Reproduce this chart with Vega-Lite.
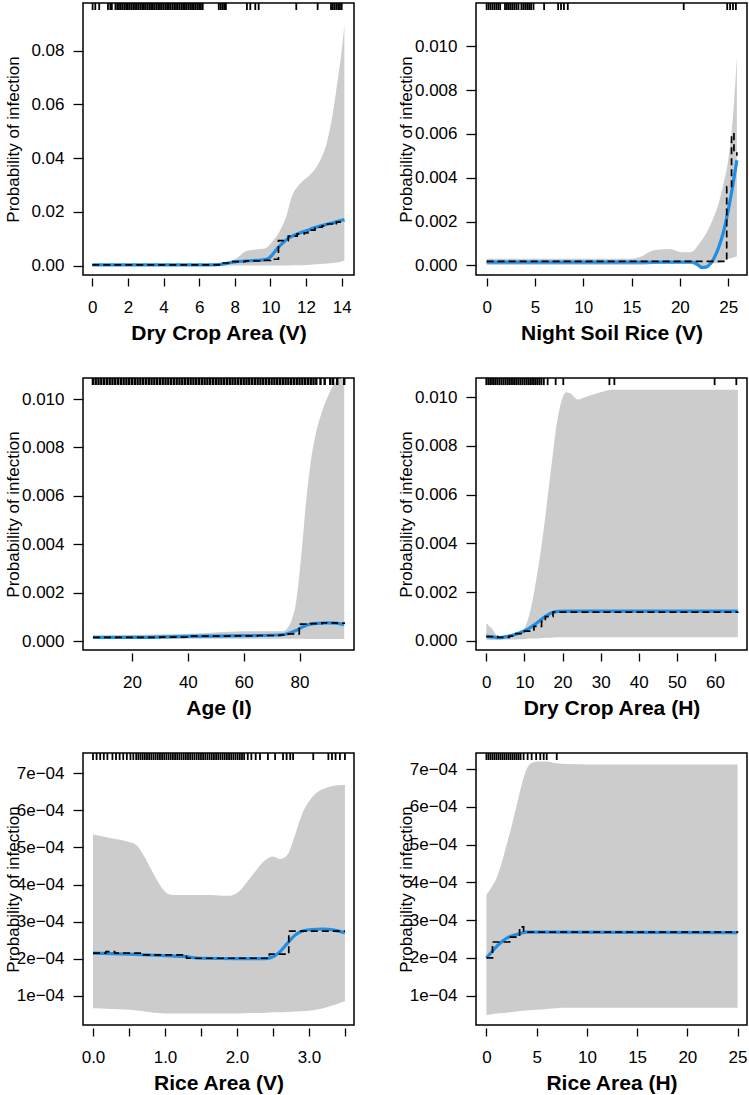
{
  "$schema": "https://vega.github.io/schema/vega-lite/v6.json",
  "padding": {"left": 3, "top": 1, "right": 0, "bottom": 0},
  "background": "white",
  "columns": 2,
  "spacing": {"row": 103, "column": 122},
  "bounds": "flush",
  "config": {
    "view": {"stroke": "#000", "strokeWidth": 1.5},
    "font": "Liberation Sans",
    "axis": {"labelFont": "Liberation Sans", "labelFontSize": 17, "labelColor": "#000", "tickColor": "#000", "tickWidth": 1.3, "grid": false, "titleFont": "Liberation Sans", "titleColor": "#000", "labelFlush": false, "labelOverlap": false, "labelBound": false},
    "axisX": {"offset": 3, "domain": false, "tickSize": 8, "labelPadding": 13, "titleFontSize": 21, "titleFontWeight": "bold", "titleY": 61, "titleBaseline": "alphabetic"},
    "axisY": {"domain": false, "tickSize": 10, "labelPadding": 9, "titleFontSize": 17, "titleFontWeight": "normal", "titleX": -65, "titleBaseline": "alphabetic"}
  },
  "datasets": {
    "b1": [{"x":0,"lo":0,"hi":0.0005},{"x":2,"lo":0,"hi":0.0005},{"x":4,"lo":0,"hi":0.0005},{"x":6,"lo":0,"hi":0.0005},{"x":7,"lo":0,"hi":0.0006},{"x":7.4,"lo":0.00005,"hi":0.0012},{"x":8,"lo":0.0001,"hi":0.0024},{"x":8.7,"lo":0.0001,"hi":0.0056},{"x":9.3,"lo":0.0001,"hi":0.0061},{"x":9.7,"lo":0.0001,"hi":0.0064},{"x":10.1,"lo":0.0001,"hi":0.0089},{"x":10.5,"lo":0.0001,"hi":0.0126},{"x":10.9,"lo":0.0001,"hi":0.0186},{"x":11.2,"lo":0.0002,"hi":0.0257},{"x":11.6,"lo":0.0002,"hi":0.03},{"x":12,"lo":0.0003,"hi":0.0325},{"x":12.4,"lo":0.0004,"hi":0.035},{"x":12.8,"lo":0.0006,"hi":0.0393},{"x":13.2,"lo":0.0008,"hi":0.0467},{"x":13.5,"lo":0.001,"hi":0.0567},{"x":13.8,"lo":0.0013,"hi":0.0703},{"x":14,"lo":0.0016,"hi":0.08},{"x":14.15,"lo":0.0019,"hi":0.0898}],
    "f1": [{"x":0,"y":0.0003},{"x":6.5,"y":0.0003},{"x":7,"y":0.0004},{"x":7.5,"y":0.0008},{"x":8,"y":0.0014},{"x":8.5,"y":0.0017},{"x":9,"y":0.0019},{"x":9.5,"y":0.0021},{"x":9.8,"y":0.0024},{"x":10.1,"y":0.004},{"x":10.4,"y":0.0065},{"x":10.7,"y":0.0085},{"x":11,"y":0.0102},{"x":11.5,"y":0.0118},{"x":12,"y":0.013},{"x":12.5,"y":0.0142},{"x":13,"y":0.0151},{"x":13.5,"y":0.016},{"x":14.15,"y":0.0172}],
    "s1": [{"x":0,"y":0.0003},{"x":7.3,"y":0.001},{"x":7.8,"y":0.0015},{"x":8.6,"y":0.0018},{"x":9.5,"y":0.002},{"x":10,"y":0.0024},{"x":10.45,"y":0.0093},{"x":11,"y":0.011},{"x":11.5,"y":0.0118},{"x":11.9,"y":0.0122},{"x":12.1,"y":0.0132},{"x":12.5,"y":0.0143},{"x":12.9,"y":0.0148},{"x":13.2,"y":0.0155},{"x":13.5,"y":0.0152},{"x":13.7,"y":0.0162},{"x":14.15,"y":0.0165}],
    "r1": [{"x":0.02},{"x":0.17},{"x":0.39},{"x":0.88},{"x":1.01},{"x":1.1},{"x":1.3},{"x":1.4},{"x":1.5},{"x":1.6},{"x":1.7},{"x":1.8},{"x":1.9},{"x":2},{"x":2.1},{"x":2.2},{"x":2.3},{"x":2.4},{"x":2.5},{"x":2.6},{"x":2.7},{"x":2.8},{"x":2.9},{"x":3},{"x":3.1},{"x":3.2},{"x":3.3},{"x":3.4},{"x":3.5},{"x":3.6},{"x":3.7},{"x":3.8},{"x":3.9},{"x":4},{"x":4.1},{"x":4.2},{"x":4.3},{"x":4.4},{"x":4.5},{"x":4.6},{"x":4.7},{"x":4.8},{"x":4.9},{"x":5},{"x":5.1},{"x":5.2},{"x":5.3},{"x":5.4},{"x":5.5},{"x":5.6},{"x":5.7},{"x":5.8},{"x":5.9},{"x":6},{"x":6.1},{"x":6.2},{"x":7.1},{"x":7.2},{"x":7.3},{"x":7.4},{"x":7.5},{"x":8.68},{"x":8.87},{"x":9.15},{"x":9.34},{"x":11.45},{"x":12.65},{"x":13.4},{"x":13.5},{"x":13.6},{"x":13.7},{"x":13.8},{"x":13.9},{"x":14}],
    "b2": [{"x":0,"lo":0.00002,"hi":0.0003},{"x":5,"lo":0.00002,"hi":0.0003},{"x":10,"lo":0.00002,"hi":0.0003},{"x":15,"lo":0.00002,"hi":0.0003},{"x":16,"lo":0.00002,"hi":0.0004},{"x":17,"lo":0.00005,"hi":0.00065},{"x":18,"lo":0.0001,"hi":0.00072},{"x":19,"lo":0.0001,"hi":0.00075},{"x":19.7,"lo":0.0001,"hi":0.00065},{"x":20.3,"lo":0.0001,"hi":0.0006},{"x":21,"lo":0.0001,"hi":0.0006},{"x":21.5,"lo":0,"hi":0.0007},{"x":22,"lo":-0.00008,"hi":0.001},{"x":22.5,"lo":-0.00012,"hi":0.0013},{"x":23,"lo":-0.00005,"hi":0.0017},{"x":23.5,"lo":0.0001,"hi":0.0022},{"x":24,"lo":0.0001,"hi":0.0028},{"x":24.5,"lo":0.0002,"hi":0.0037},{"x":25,"lo":0.0003,"hi":0.0048},{"x":25.5,"lo":0.00035,"hi":0.0068},{"x":25.9,"lo":0.0004,"hi":0.0095}],
    "f2": [{"x":0,"y":0.00015},{"x":21.3,"y":0.00015},{"x":21.8,"y":0.00005},{"x":22.3,"y":-0.0001},{"x":22.7,"y":-0.00008},{"x":23,"y":0},{"x":23.5,"y":0.0003},{"x":24,"y":0.0008},{"x":24.5,"y":0.0015},{"x":25,"y":0.0025},{"x":25.5,"y":0.0037},{"x":25.9,"y":0.0048}],
    "s2": [{"x":0,"y":0.00018},{"x":24.85,"y":0.0036},{"x":25.35,"y":0.006},{"x":25.6,"y":0.0052},{"x":25.9,"y":0.005}],
    "r2": [{"x":0},{"x":0.2},{"x":0.4},{"x":0.6},{"x":0.8},{"x":1},{"x":1.2},{"x":1.4},{"x":1.9},{"x":2.1},{"x":2.3},{"x":2.5},{"x":2.7},{"x":2.9},{"x":3.1},{"x":3.3},{"x":3.6},{"x":3.8},{"x":4},{"x":4.2},{"x":4.4},{"x":4.6},{"x":4.85},{"x":5.95},{"x":7.4},{"x":7.7},{"x":8},{"x":8.4},{"x":20.4},{"x":24.9},{"x":25.2},{"x":25.5},{"x":25.8}],
    "b3": [{"x":6,"lo":0.0001,"hi":0.00022},{"x":20,"lo":0.0001,"hi":0.00025},{"x":40,"lo":0.0001,"hi":0.0003},{"x":50,"lo":0.0001,"hi":0.00035},{"x":60,"lo":0.0001,"hi":0.0004},{"x":70,"lo":0.0001,"hi":0.0004},{"x":74,"lo":0.0001,"hi":0.0004},{"x":75.6,"lo":0.0001,"hi":0.00052},{"x":77.4,"lo":0.0001,"hi":0.00094},{"x":78.6,"lo":0.0001,"hi":0.0015},{"x":79.8,"lo":0.00009,"hi":0.0026},{"x":81,"lo":0.00009,"hi":0.004},{"x":82.2,"lo":0.00008,"hi":0.0056},{"x":83.9,"lo":0.00008,"hi":0.0073},{"x":85.7,"lo":0.00008,"hi":0.0085},{"x":88.1,"lo":0.00008,"hi":0.0095},{"x":90.5,"lo":0.00008,"hi":0.0102},{"x":92.9,"lo":0.00008,"hi":0.0107},{"x":95,"lo":0.00008,"hi":0.01085},{"x":96,"lo":0.00008,"hi":0.01087}],
    "f3": [{"x":6,"y":0.00015},{"x":20,"y":0.00015},{"x":40,"y":0.00019},{"x":60,"y":0.00022},{"x":72,"y":0.00025},{"x":75,"y":0.00028},{"x":77,"y":0.00035},{"x":79,"y":0.00045},{"x":81,"y":0.00058},{"x":83,"y":0.00067},{"x":86,"y":0.00073},{"x":90,"y":0.00075},{"x":93,"y":0.00074},{"x":96,"y":0.00068}],
    "s3": [{"x":6,"y":0.00015},{"x":30,"y":0.00016},{"x":40,"y":0.0002},{"x":55,"y":0.00021},{"x":65,"y":0.00023},{"x":73,"y":0.00025},{"x":76,"y":0.0003},{"x":79.9,"y":0.0007},{"x":84,"y":0.00072},{"x":88,"y":0.00075},{"x":93,"y":0.00074},{"x":96,"y":0.0007}],
    "r3": [{"x":6},{"x":7},{"x":8},{"x":9},{"x":10},{"x":11},{"x":12},{"x":13},{"x":14},{"x":15},{"x":16},{"x":17},{"x":18},{"x":19},{"x":20},{"x":21},{"x":22},{"x":23},{"x":24},{"x":25},{"x":26},{"x":27},{"x":28},{"x":29},{"x":30},{"x":31},{"x":32},{"x":33},{"x":34},{"x":35},{"x":36},{"x":37},{"x":38},{"x":39},{"x":40},{"x":41},{"x":42},{"x":43},{"x":44},{"x":45},{"x":46},{"x":47},{"x":48},{"x":49},{"x":50},{"x":51},{"x":52},{"x":53},{"x":54},{"x":55},{"x":56},{"x":57},{"x":58},{"x":59},{"x":60},{"x":61},{"x":62},{"x":63},{"x":64},{"x":65},{"x":66},{"x":67},{"x":68},{"x":69},{"x":70},{"x":71},{"x":72},{"x":73},{"x":74},{"x":75},{"x":76},{"x":77},{"x":78},{"x":79},{"x":80},{"x":81},{"x":82},{"x":83},{"x":84},{"x":85},{"x":86},{"x":87.5},{"x":89},{"x":91},{"x":92},{"x":93.5},{"x":96}],
    "b4": [{"x":0,"lo":0.00004,"hi":0.00073},{"x":1.5,"lo":0.00004,"hi":0.0005},{"x":3,"lo":0.00005,"hi":0.0002},{"x":6,"lo":0.00006,"hi":0.0002},{"x":9,"lo":0.00007,"hi":0.0003},{"x":10,"lo":0.00008,"hi":0.0005},{"x":11.5,"lo":0.0001,"hi":0.0012},{"x":13.2,"lo":0.0001,"hi":0.0026},{"x":15,"lo":0.00012,"hi":0.0045},{"x":16.8,"lo":0.00013,"hi":0.0068},{"x":18.5,"lo":0.00015,"hi":0.0089},{"x":19.5,"lo":0.00015,"hi":0.0097},{"x":21,"lo":0.00015,"hi":0.0102},{"x":22,"lo":0.00015,"hi":0.01015},{"x":24,"lo":0.00015,"hi":0.0099},{"x":26,"lo":0.00015,"hi":0.01},{"x":30,"lo":0.00015,"hi":0.0102},{"x":33,"lo":0.00015,"hi":0.0103},{"x":66,"lo":0.00015,"hi":0.0103}],
    "f4": [{"x":0,"y":0.0002},{"x":3.5,"y":0.00014},{"x":6,"y":0.0002},{"x":9,"y":0.00035},{"x":11,"y":0.0005},{"x":13,"y":0.0007},{"x":15,"y":0.00095},{"x":17,"y":0.00115},{"x":19,"y":0.00121},{"x":22,"y":0.00122},{"x":66,"y":0.00122}],
    "s4": [{"x":0,"y":0.00018},{"x":3,"y":0.00015},{"x":6,"y":0.0002},{"x":7.5,"y":0.0003},{"x":10,"y":0.0004},{"x":12.5,"y":0.0006},{"x":14.5,"y":0.0008},{"x":15.5,"y":0.001},{"x":17.5,"y":0.00118},{"x":66,"y":0.0012}],
    "r4": [{"x":0},{"x":0.5},{"x":1},{"x":1.5},{"x":2},{"x":2.5},{"x":3},{"x":3.5},{"x":4},{"x":4.5},{"x":5},{"x":5.5},{"x":6},{"x":6.5},{"x":7},{"x":7.5},{"x":8},{"x":8.5},{"x":9},{"x":9.5},{"x":10},{"x":10.5},{"x":11},{"x":11.5},{"x":12},{"x":12.5},{"x":13},{"x":13.5},{"x":14},{"x":14.5},{"x":15.1},{"x":16.1},{"x":18.2},{"x":20.2},{"x":32.3},{"x":33.6},{"x":59.9},{"x":65.6}],
    "b5": [{"x":0,"lo":0.66e-4,"hi":5.35e-4},{"x":0.25,"lo":0.64e-4,"hi":5.25e-4},{"x":0.5,"lo":0.62e-4,"hi":5.15e-4},{"x":0.6,"lo":0.6e-4,"hi":5.07e-4},{"x":0.7,"lo":0.58e-4,"hi":4.8e-4},{"x":0.8,"lo":0.55e-4,"hi":4.44e-4},{"x":0.9,"lo":0.53e-4,"hi":4.08e-4},{"x":1,"lo":0.52e-4,"hi":3.81e-4},{"x":1.1,"lo":0.52e-4,"hi":3.72e-4},{"x":1.5,"lo":0.52e-4,"hi":3.72e-4},{"x":1.9,"lo":0.52e-4,"hi":3.7e-4},{"x":2,"lo":0.52e-4,"hi":3.77e-4},{"x":2.2,"lo":0.53e-4,"hi":4.22e-4},{"x":2.4,"lo":0.54e-4,"hi":4.67e-4},{"x":2.5,"lo":0.55e-4,"hi":4.76e-4},{"x":2.6,"lo":0.55e-4,"hi":4.69e-4},{"x":2.7,"lo":0.56e-4,"hi":4.8e-4},{"x":2.8,"lo":0.57e-4,"hi":5.3e-4},{"x":2.9,"lo":0.58e-4,"hi":5.88e-4},{"x":3,"lo":0.59e-4,"hi":6.24e-4},{"x":3.1,"lo":0.62e-4,"hi":6.47e-4},{"x":3.2,"lo":0.66e-4,"hi":6.58e-4},{"x":3.3,"lo":0.72e-4,"hi":6.65e-4},{"x":3.4,"lo":0.78e-4,"hi":6.68e-4},{"x":3.5,"lo":0.85e-4,"hi":6.69e-4}],
    "f5": [{"x":0,"y":2.15e-4},{"x":0.5,"y":2.12e-4},{"x":1,"y":2.08e-4},{"x":1.25,"y":2.06e-4},{"x":1.5,"y":2.01e-4},{"x":2,"y":2.0e-4},{"x":2.4,"y":2.0e-4},{"x":2.5,"y":2.05e-4},{"x":2.6,"y":2.19e-4},{"x":2.7,"y":2.41e-4},{"x":2.8,"y":2.62e-4},{"x":2.9,"y":2.74e-4},{"x":3,"y":2.78e-4},{"x":3.2,"y":2.8e-4},{"x":3.35,"y":2.77e-4},{"x":3.5,"y":2.7e-4}],
    "s5": [{"x":0,"y":2.15e-4},{"x":0.18,"y":2.19e-4},{"x":0.3,"y":2.15e-4},{"x":0.7,"y":2.1e-4},{"x":1.3,"y":2.01e-4},{"x":2.45,"y":2.12e-4},{"x":2.72,"y":2.74e-4},{"x":3.5,"y":2.74e-4}],
    "r5": [{"x":0},{"x":0.05},{"x":0.1},{"x":0.15},{"x":0.2},{"x":0.27},{"x":0.32},{"x":0.37},{"x":0.42},{"x":0.47},{"x":0.52},{"x":0.56},{"x":0.6},{"x":0.63},{"x":0.66},{"x":0.69},{"x":0.72},{"x":0.75},{"x":0.78},{"x":0.81},{"x":0.84},{"x":0.87},{"x":0.9},{"x":0.93},{"x":0.96},{"x":0.99},{"x":1.02},{"x":1.05},{"x":1.08},{"x":1.11},{"x":1.14},{"x":1.17},{"x":1.2},{"x":1.23},{"x":1.26},{"x":1.29},{"x":1.32},{"x":1.35},{"x":1.38},{"x":1.41},{"x":1.44},{"x":1.47},{"x":1.5},{"x":1.53},{"x":1.56},{"x":1.59},{"x":1.62},{"x":1.65},{"x":1.68},{"x":1.71},{"x":1.74},{"x":1.77},{"x":1.8},{"x":1.83},{"x":1.86},{"x":1.89},{"x":1.92},{"x":1.95},{"x":1.98},{"x":2.01},{"x":2.04},{"x":2.07},{"x":2.1},{"x":2.15},{"x":2.2},{"x":2.26},{"x":2.32},{"x":2.43},{"x":2.53},{"x":2.64},{"x":2.69},{"x":2.74},{"x":2.78},{"x":3.06},{"x":3.27},{"x":3.32},{"x":3.37},{"x":3.43},{"x":3.5}],
    "b6": [{"x":0,"lo":0.49e-4,"hi":3.67e-4},{"x":0.5,"lo":0.51e-4,"hi":3.87e-4},{"x":1,"lo":0.53e-4,"hi":4.11e-4},{"x":1.5,"lo":0.54e-4,"hi":4.5e-4},{"x":2,"lo":0.55e-4,"hi":4.99e-4},{"x":2.5,"lo":0.57e-4,"hi":5.48e-4},{"x":3,"lo":0.58e-4,"hi":6.03e-4},{"x":3.5,"lo":0.6e-4,"hi":6.58e-4},{"x":4,"lo":0.61e-4,"hi":7.0e-4},{"x":4.5,"lo":0.62e-4,"hi":7.16e-4},{"x":5,"lo":0.63e-4,"hi":7.2e-4},{"x":6,"lo":0.65e-4,"hi":7.2e-4},{"x":7,"lo":0.67e-4,"hi":7.15e-4},{"x":8,"lo":0.68e-4,"hi":7.13e-4},{"x":10,"lo":0.68e-4,"hi":7.12e-4},{"x":25,"lo":0.68e-4,"hi":7.12e-4}],
    "f6": [{"x":0,"y":2.0e-4},{"x":0.5,"y":2.15e-4},{"x":1,"y":2.3e-4},{"x":1.5,"y":2.42e-4},{"x":2,"y":2.52e-4},{"x":3,"y":2.62e-4},{"x":4,"y":2.68e-4},{"x":5,"y":2.68e-4},{"x":25,"y":2.67e-4}],
    "s6": [{"x":0,"y":2.0e-4},{"x":0.6,"y":2.42e-4},{"x":2.3,"y":2.55e-4},{"x":3.3,"y":2.82e-4},{"x":3.7,"y":2.68e-4},{"x":25,"y":2.67e-4}],
    "r6": [{"x":0},{"x":0.2},{"x":0.4},{"x":0.6},{"x":0.8},{"x":1},{"x":1.2},{"x":1.4},{"x":1.6},{"x":1.8},{"x":2},{"x":2.2},{"x":2.4},{"x":2.6},{"x":2.8},{"x":3},{"x":3.2},{"x":3.4},{"x":3.7},{"x":4.1},{"x":4.5},{"x":4.95},{"x":5.36},{"x":5.7},{"x":6},{"x":7}]
  },
  "concat": [
    {
      "width": 271, "height": 272,
      "layer": [
        {"data": {"name": "b1"}, "mark": {"type": "area", "color": "#CCCCCC", "interpolate": "monotone", "clip": true},
         "encoding": {
           "x": {"field": "x", "type": "quantitative", "scale": {"domain": [-0.52, 14.69], "nice": false, "zero": false}, "axis": {"values": [0, 2, 4, 6, 8, 10, 12, 14], "title": "Dry Crop Area (V)"}},
           "y": {"field": "lo", "type": "quantitative", "scale": {"domain": [-0.00346, 0.0977], "nice": false, "zero": false}, "axis": {"values": [0, 0.02, 0.04, 0.06, 0.08], "format": ".2f", "title": "Probability of infection"}},
           "y2": {"field": "hi"}}},
        {"data": {"name": "f1"}, "mark": {"type": "line", "color": "#1F8FE5", "strokeWidth": 3.2, "interpolate": "monotone", "clip": true},
         "encoding": {
           "x": {"field": "x", "type": "quantitative", "scale": {"domain": [-0.52, 14.69], "nice": false, "zero": false}, "axis": {"values": [0, 2, 4, 6, 8, 10, 12, 14], "title": "Dry Crop Area (V)"}},
           "y": {"field": "y", "type": "quantitative", "scale": {"domain": [-0.00346, 0.0977], "nice": false, "zero": false}, "axis": {"values": [0, 0.02, 0.04, 0.06, 0.08], "format": ".2f", "title": "Probability of infection"}}}},
        {"data": {"name": "s1"}, "mark": {"type": "line", "color": "#000", "strokeWidth": 1.7, "strokeDash": [7, 4], "interpolate": "step-after", "clip": true},
         "encoding": {
           "x": {"field": "x", "type": "quantitative", "scale": {"domain": [-0.52, 14.69], "nice": false, "zero": false}, "axis": {"values": [0, 2, 4, 6, 8, 10, 12, 14], "title": "Dry Crop Area (V)"}},
           "y": {"field": "y", "type": "quantitative", "scale": {"domain": [-0.00346, 0.0977], "nice": false, "zero": false}, "axis": {"values": [0, 0.02, 0.04, 0.06, 0.08], "format": ".2f", "title": "Probability of infection"}}}},
        {"data": {"name": "r1"}, "mark": {"type": "rule", "color": "#000", "strokeWidth": 1.8},
         "encoding": {
           "x": {"field": "x", "type": "quantitative", "scale": {"domain": [-0.52, 14.69], "nice": false, "zero": false}, "axis": {"values": [0, 2, 4, 6, 8, 10, 12, 14], "title": "Dry Crop Area (V)"}},
           "y": {"datum": 0.0977, "type": "quantitative", "scale": {"domain": [-0.00346, 0.0977], "nice": false, "zero": false}, "axis": {"values": [0, 0.02, 0.04, 0.06, 0.08], "format": ".2f", "title": "Probability of infection"}},
           "y2": {"datum": 0.0951}}}
      ]
    },
    {
      "width": 271, "height": 272,
      "layer": [
        {"data": {"name": "b2"}, "mark": {"type": "area", "color": "#CCCCCC", "interpolate": "monotone", "clip": true},
         "encoding": {
           "x": {"field": "x", "type": "quantitative", "scale": {"domain": [-1.1, 26.95], "nice": false, "zero": false}, "axis": {"values": [0, 5, 10, 15, 20, 25], "title": "Night Soil Rice (V)"}},
           "y": {"field": "lo", "type": "quantitative", "scale": {"domain": [-0.00044, 0.01198], "nice": false, "zero": false}, "axis": {"values": [0, 0.002, 0.004, 0.006, 0.008, 0.01], "format": ".3f", "title": "Probability of infection"}},
           "y2": {"field": "hi"}}},
        {"data": {"name": "f2"}, "mark": {"type": "line", "color": "#1F8FE5", "strokeWidth": 3.2, "interpolate": "monotone", "clip": true},
         "encoding": {
           "x": {"field": "x", "type": "quantitative", "scale": {"domain": [-1.1, 26.95], "nice": false, "zero": false}, "axis": {"values": [0, 5, 10, 15, 20, 25], "title": "Night Soil Rice (V)"}},
           "y": {"field": "y", "type": "quantitative", "scale": {"domain": [-0.00044, 0.01198], "nice": false, "zero": false}, "axis": {"values": [0, 0.002, 0.004, 0.006, 0.008, 0.01], "format": ".3f", "title": "Probability of infection"}}}},
        {"data": {"name": "s2"}, "mark": {"type": "line", "color": "#000", "strokeWidth": 1.7, "strokeDash": [7, 4], "interpolate": "step-after", "clip": true},
         "encoding": {
           "x": {"field": "x", "type": "quantitative", "scale": {"domain": [-1.1, 26.95], "nice": false, "zero": false}, "axis": {"values": [0, 5, 10, 15, 20, 25], "title": "Night Soil Rice (V)"}},
           "y": {"field": "y", "type": "quantitative", "scale": {"domain": [-0.00044, 0.01198], "nice": false, "zero": false}, "axis": {"values": [0, 0.002, 0.004, 0.006, 0.008, 0.01], "format": ".3f", "title": "Probability of infection"}}}},
        {"data": {"name": "r2"}, "mark": {"type": "rule", "color": "#000", "strokeWidth": 1.8},
         "encoding": {
           "x": {"field": "x", "type": "quantitative", "scale": {"domain": [-1.1, 26.95], "nice": false, "zero": false}, "axis": {"values": [0, 5, 10, 15, 20, 25], "title": "Night Soil Rice (V)"}},
           "y": {"datum": 0.01198, "type": "quantitative", "scale": {"domain": [-0.00044, 0.01198], "nice": false, "zero": false}, "axis": {"values": [0, 0.002, 0.004, 0.006, 0.008, 0.01], "format": ".3f", "title": "Probability of infection"}},
           "y2": {"datum": 0.01166}}}
      ]
    },
    {
      "width": 271, "height": 272,
      "layer": [
        {"data": {"name": "b3"}, "mark": {"type": "area", "color": "#CCCCCC", "interpolate": "monotone", "clip": true},
         "encoding": {
           "x": {"field": "x", "type": "quantitative", "scale": {"domain": [2.45, 99.5], "nice": false, "zero": false}, "axis": {"values": [20, 40, 60, 80], "title": "Age (I)"}},
           "y": {"field": "lo", "type": "quantitative", "scale": {"domain": [-0.00037, 0.01087], "nice": false, "zero": false}, "axis": {"values": [0, 0.002, 0.004, 0.006, 0.008, 0.01], "format": ".3f", "title": "Probability of infection"}},
           "y2": {"field": "hi"}}},
        {"data": {"name": "f3"}, "mark": {"type": "line", "color": "#1F8FE5", "strokeWidth": 3.2, "interpolate": "monotone", "clip": true},
         "encoding": {
           "x": {"field": "x", "type": "quantitative", "scale": {"domain": [2.45, 99.5], "nice": false, "zero": false}, "axis": {"values": [20, 40, 60, 80], "title": "Age (I)"}},
           "y": {"field": "y", "type": "quantitative", "scale": {"domain": [-0.00037, 0.01087], "nice": false, "zero": false}, "axis": {"values": [0, 0.002, 0.004, 0.006, 0.008, 0.01], "format": ".3f", "title": "Probability of infection"}}}},
        {"data": {"name": "s3"}, "mark": {"type": "line", "color": "#000", "strokeWidth": 1.7, "strokeDash": [7, 4], "interpolate": "step-after", "clip": true},
         "encoding": {
           "x": {"field": "x", "type": "quantitative", "scale": {"domain": [2.45, 99.5], "nice": false, "zero": false}, "axis": {"values": [20, 40, 60, 80], "title": "Age (I)"}},
           "y": {"field": "y", "type": "quantitative", "scale": {"domain": [-0.00037, 0.01087], "nice": false, "zero": false}, "axis": {"values": [0, 0.002, 0.004, 0.006, 0.008, 0.01], "format": ".3f", "title": "Probability of infection"}}}},
        {"data": {"name": "r3"}, "mark": {"type": "rule", "color": "#000", "strokeWidth": 2.4},
         "encoding": {
           "x": {"field": "x", "type": "quantitative", "scale": {"domain": [2.45, 99.5], "nice": false, "zero": false}, "axis": {"values": [20, 40, 60, 80], "title": "Age (I)"}},
           "y": {"datum": 0.01087, "type": "quantitative", "scale": {"domain": [-0.00037, 0.01087], "nice": false, "zero": false}, "axis": {"values": [0, 0.002, 0.004, 0.006, 0.008, 0.01], "format": ".3f", "title": "Probability of infection"}},
           "y2": {"datum": 0.01058}}}
      ]
    },
    {
      "width": 271, "height": 272,
      "layer": [
        {"data": {"name": "b4"}, "mark": {"type": "area", "color": "#CCCCCC", "interpolate": "monotone", "clip": true},
         "encoding": {
           "x": {"field": "x", "type": "quantitative", "scale": {"domain": [-2.7, 68.4], "nice": false, "zero": false}, "axis": {"values": [0, 10, 20, 30, 40, 50, 60], "title": "Dry Crop Area (H)"}},
           "y": {"field": "lo", "type": "quantitative", "scale": {"domain": [-0.00037, 0.01078], "nice": false, "zero": false}, "axis": {"values": [0, 0.002, 0.004, 0.006, 0.008, 0.01], "format": ".3f", "title": "Probability of infection"}},
           "y2": {"field": "hi"}}},
        {"data": {"name": "f4"}, "mark": {"type": "line", "color": "#1F8FE5", "strokeWidth": 3.2, "interpolate": "monotone", "clip": true},
         "encoding": {
           "x": {"field": "x", "type": "quantitative", "scale": {"domain": [-2.7, 68.4], "nice": false, "zero": false}, "axis": {"values": [0, 10, 20, 30, 40, 50, 60], "title": "Dry Crop Area (H)"}},
           "y": {"field": "y", "type": "quantitative", "scale": {"domain": [-0.00037, 0.01078], "nice": false, "zero": false}, "axis": {"values": [0, 0.002, 0.004, 0.006, 0.008, 0.01], "format": ".3f", "title": "Probability of infection"}}}},
        {"data": {"name": "s4"}, "mark": {"type": "line", "color": "#000", "strokeWidth": 1.7, "strokeDash": [7, 4], "interpolate": "step-after", "clip": true},
         "encoding": {
           "x": {"field": "x", "type": "quantitative", "scale": {"domain": [-2.7, 68.4], "nice": false, "zero": false}, "axis": {"values": [0, 10, 20, 30, 40, 50, 60], "title": "Dry Crop Area (H)"}},
           "y": {"field": "y", "type": "quantitative", "scale": {"domain": [-0.00037, 0.01078], "nice": false, "zero": false}, "axis": {"values": [0, 0.002, 0.004, 0.006, 0.008, 0.01], "format": ".3f", "title": "Probability of infection"}}}},
        {"data": {"name": "r4"}, "mark": {"type": "rule", "color": "#000", "strokeWidth": 1.8},
         "encoding": {
           "x": {"field": "x", "type": "quantitative", "scale": {"domain": [-2.7, 68.4], "nice": false, "zero": false}, "axis": {"values": [0, 10, 20, 30, 40, 50, 60], "title": "Dry Crop Area (H)"}},
           "y": {"datum": 0.01078, "type": "quantitative", "scale": {"domain": [-0.00037, 0.01078], "nice": false, "zero": false}, "axis": {"values": [0, 0.002, 0.004, 0.006, 0.008, 0.01], "format": ".3f", "title": "Probability of infection"}},
           "y2": {"datum": 0.01049}}}
      ]
    },
    {
      "width": 271, "height": 272,
      "layer": [
        {"data": {"name": "b5"}, "mark": {"type": "area", "color": "#CCCCCC", "interpolate": "monotone", "clip": true},
         "encoding": {
           "x": {"field": "x", "type": "quantitative", "scale": {"domain": [-0.139, 3.626], "nice": false, "zero": false}, "axis": {"values": [0, 0.5, 1, 1.5, 2, 2.5, 3, 3.5], "labelExpr": "datum.value % 1 === 0 ? format(datum.value, '.1f') : ''", "title": "Rice Area (V)"}},
           "y": {"field": "lo", "type": "quantitative", "scale": {"domain": [0.208e-4, 7.551e-4], "nice": false, "zero": false}, "axis": {"values": [1e-4, 2e-4, 3e-4, 4e-4, 5e-4, 6e-4, 7e-4], "labelExpr": "format(datum.value * 10000, '.0f') + 'e−04'", "title": "Probability of infection"}},
           "y2": {"field": "hi"}}},
        {"data": {"name": "f5"}, "mark": {"type": "line", "color": "#1F8FE5", "strokeWidth": 3.2, "interpolate": "monotone", "clip": true},
         "encoding": {
           "x": {"field": "x", "type": "quantitative", "scale": {"domain": [-0.139, 3.626], "nice": false, "zero": false}, "axis": {"values": [0, 0.5, 1, 1.5, 2, 2.5, 3, 3.5], "labelExpr": "datum.value % 1 === 0 ? format(datum.value, '.1f') : ''", "title": "Rice Area (V)"}},
           "y": {"field": "y", "type": "quantitative", "scale": {"domain": [0.208e-4, 7.551e-4], "nice": false, "zero": false}, "axis": {"values": [1e-4, 2e-4, 3e-4, 4e-4, 5e-4, 6e-4, 7e-4], "labelExpr": "format(datum.value * 10000, '.0f') + 'e−04'", "title": "Probability of infection"}}}},
        {"data": {"name": "s5"}, "mark": {"type": "line", "color": "#000", "strokeWidth": 1.7, "strokeDash": [7, 4], "interpolate": "step-after", "clip": true},
         "encoding": {
           "x": {"field": "x", "type": "quantitative", "scale": {"domain": [-0.139, 3.626], "nice": false, "zero": false}, "axis": {"values": [0, 0.5, 1, 1.5, 2, 2.5, 3, 3.5], "labelExpr": "datum.value % 1 === 0 ? format(datum.value, '.1f') : ''", "title": "Rice Area (V)"}},
           "y": {"field": "y", "type": "quantitative", "scale": {"domain": [0.208e-4, 7.551e-4], "nice": false, "zero": false}, "axis": {"values": [1e-4, 2e-4, 3e-4, 4e-4, 5e-4, 6e-4, 7e-4], "labelExpr": "format(datum.value * 10000, '.0f') + 'e−04'", "title": "Probability of infection"}}}},
        {"data": {"name": "r5"}, "mark": {"type": "rule", "color": "#000", "strokeWidth": 1.8},
         "encoding": {
           "x": {"field": "x", "type": "quantitative", "scale": {"domain": [-0.139, 3.626], "nice": false, "zero": false}, "axis": {"values": [0, 0.5, 1, 1.5, 2, 2.5, 3, 3.5], "labelExpr": "datum.value % 1 === 0 ? format(datum.value, '.1f') : ''", "title": "Rice Area (V)"}},
           "y": {"datum": 7.551e-4, "type": "quantitative", "scale": {"domain": [0.208e-4, 7.551e-4], "nice": false, "zero": false}, "axis": {"values": [1e-4, 2e-4, 3e-4, 4e-4, 5e-4, 6e-4, 7e-4], "labelExpr": "format(datum.value * 10000, '.0f') + 'e−04'", "title": "Probability of infection"}},
           "y2": {"datum": 7.362e-4}}}
      ]
    },
    {
      "width": 271, "height": 272,
      "layer": [
        {"data": {"name": "b6"}, "mark": {"type": "area", "color": "#CCCCCC", "interpolate": "monotone", "clip": true},
         "encoding": {
           "x": {"field": "x", "type": "quantitative", "scale": {"domain": [-1.04, 25.94], "nice": false, "zero": false}, "axis": {"values": [0, 5, 10, 15, 20, 25], "title": "Rice Area (H)"}},
           "y": {"field": "lo", "type": "quantitative", "scale": {"domain": [0.2234e-4, 7.424e-4], "nice": false, "zero": false}, "axis": {"values": [1e-4, 2e-4, 3e-4, 4e-4, 5e-4, 6e-4, 7e-4], "labelExpr": "format(datum.value * 10000, '.0f') + 'e−04'", "title": "Probability of infection"}},
           "y2": {"field": "hi"}}},
        {"data": {"name": "f6"}, "mark": {"type": "line", "color": "#1F8FE5", "strokeWidth": 3.2, "interpolate": "monotone", "clip": true},
         "encoding": {
           "x": {"field": "x", "type": "quantitative", "scale": {"domain": [-1.04, 25.94], "nice": false, "zero": false}, "axis": {"values": [0, 5, 10, 15, 20, 25], "title": "Rice Area (H)"}},
           "y": {"field": "y", "type": "quantitative", "scale": {"domain": [0.2234e-4, 7.424e-4], "nice": false, "zero": false}, "axis": {"values": [1e-4, 2e-4, 3e-4, 4e-4, 5e-4, 6e-4, 7e-4], "labelExpr": "format(datum.value * 10000, '.0f') + 'e−04'", "title": "Probability of infection"}}}},
        {"data": {"name": "s6"}, "mark": {"type": "line", "color": "#000", "strokeWidth": 1.7, "strokeDash": [7, 4], "interpolate": "step-after", "clip": true},
         "encoding": {
           "x": {"field": "x", "type": "quantitative", "scale": {"domain": [-1.04, 25.94], "nice": false, "zero": false}, "axis": {"values": [0, 5, 10, 15, 20, 25], "title": "Rice Area (H)"}},
           "y": {"field": "y", "type": "quantitative", "scale": {"domain": [0.2234e-4, 7.424e-4], "nice": false, "zero": false}, "axis": {"values": [1e-4, 2e-4, 3e-4, 4e-4, 5e-4, 6e-4, 7e-4], "labelExpr": "format(datum.value * 10000, '.0f') + 'e−04'", "title": "Probability of infection"}}}},
        {"data": {"name": "r6"}, "mark": {"type": "rule", "color": "#000", "strokeWidth": 1.8},
         "encoding": {
           "x": {"field": "x", "type": "quantitative", "scale": {"domain": [-1.04, 25.94], "nice": false, "zero": false}, "axis": {"values": [0, 5, 10, 15, 20, 25], "title": "Rice Area (H)"}},
           "y": {"datum": 7.424e-4, "type": "quantitative", "scale": {"domain": [0.2234e-4, 7.424e-4], "nice": false, "zero": false}, "axis": {"values": [1e-4, 2e-4, 3e-4, 4e-4, 5e-4, 6e-4, 7e-4], "labelExpr": "format(datum.value * 10000, '.0f') + 'e−04'", "title": "Probability of infection"}},
           "y2": {"datum": 7.238e-4}}}
      ]
    }
  ]
}
